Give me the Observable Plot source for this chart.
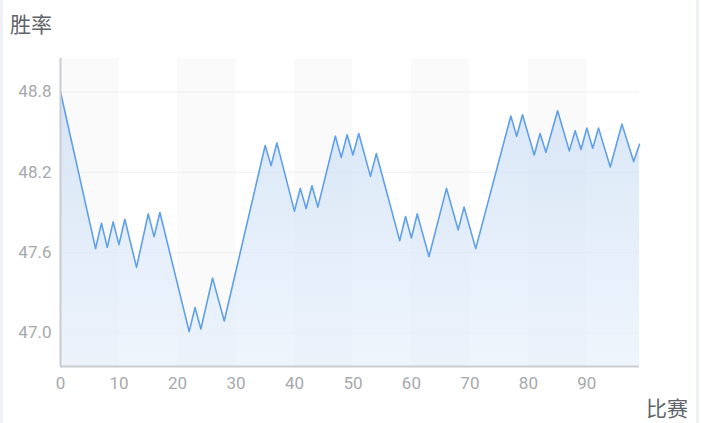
<!DOCTYPE html>
<html>
<head>
<meta charset="utf-8">
<script src="https://cdn.jsdelivr.net/npm/d3@7"></script>
<script src="https://cdn.jsdelivr.net/npm/@observablehq/plot@0.6"></script>
<style>
  html, body { margin: 0; padding: 0; background: #fff; }
  #wrap { position: relative; width: 701px; height: 423px; overflow: hidden;
          font-family: "Noto Sans CJK SC", "Noto Sans", Roboto, sans-serif; }
  #wrap:before, #wrap:after { content: ""; position: absolute; top: 0; bottom: 0; width: 3px; background: #eef1f6; }
  #wrap:before { left: 0; } #wrap:after { right: 2px; }
  .lbl { position: absolute; font-size: 21px; line-height: 1; color: #5f646b; font-family: "Noto Sans CJK SC", sans-serif; }
  #chart { position: absolute; left: 0; top: 0; }
</style>
</head>
<body>
<div id="wrap">
  <div id="chart"></div>
  <div class="lbl" style="left:10px; top:13px;">胜率</div>
  <div class="lbl" style="left:646px; top:397px;">比赛</div>
</div>
<script>
// match index of each vertex of the win-rate line
const matches = [0, 6, 7, 8, 9, 10, 11, 13, 15, 16, 17, 22, 23, 24, 26, 28, 35, 36, 37, 40, 41, 42, 43, 44, 47, 48, 49, 50, 51, 53, 54, 58, 59, 60, 61, 63, 66, 68, 69, 71, 77, 78, 79, 81, 82, 83, 85, 87, 88, 89, 90, 91, 92, 94, 96, 98, 99];
// win rate (%) at those matches
const winRate = [48.80, 47.63, 47.82, 47.64, 47.83, 47.66, 47.85, 47.49, 47.89, 47.72, 47.90, 47.01, 47.19, 47.03, 47.41, 47.09, 48.40, 48.25, 48.42, 47.91, 48.08, 47.93, 48.10, 47.94, 48.47, 48.31, 48.48, 48.33, 48.49, 48.17, 48.34, 47.69, 47.87, 47.71, 47.89, 47.57, 48.08, 47.77, 47.94, 47.63, 48.62, 48.47, 48.63, 48.33, 48.49, 48.35, 48.66, 48.36, 48.51, 48.37, 48.53, 48.38, 48.53, 48.24, 48.56, 48.28, 48.41];
const xTicks = [0, 10, 20, 30, 40, 50, 60, 70, 80, 90];
const yTicks = [47.0, 47.6, 48.2, 48.8];
const xDomain = [0, 99];
const yDomain = [46.75, 49.05];
const bandStarts = [0, 20, 40, 60, 80];
const bandWidth = 10;

const data = matches.map((m, i) => ({match: m, rate: winRate[i]}));
const bands = bandStarts.map(s => ({x1: s, x2: s + bandWidth}));

const gradient = () => {
  const defs = d3.create("svg:defs");
  const g = defs.append("linearGradient").attr("id", "areaGrad")
    .attr("x1", 0).attr("y1", 0).attr("x2", 0).attr("y2", 1);
  g.append("stop").attr("offset", "0%").attr("stop-color", "#c9dcf4").attr("stop-opacity", 0.7);
  g.append("stop").attr("offset", "100%").attr("stop-color", "#e3eefb").attr("stop-opacity", 0.6);
  return defs.node();
};

const chart = Plot.plot({
  width: 701,
  height: 423,
  marginLeft: 60,
  marginRight: 62,
  marginTop: 58,
  marginBottom: 57,
  style: {color: "#a6a9ad", fontSize: "17px", fontFamily: "Roboto, 'Noto Sans', sans-serif", background: "transparent"},
  x: {domain: xDomain},
  y: {domain: yDomain},
  marks: [
    gradient,
    Plot.rectY(bands, {x1: "x1", x2: "x2", y1: yDomain[0], y2: yDomain[1], fill: "#fafafb"}),
    Plot.gridY(yTicks, {stroke: "#eeeff1", strokeOpacity: 1}),
    Plot.areaY(data, {x: "match", y1: yDomain[0], y2: "rate", fill: "url(#areaGrad)"}),
    Plot.line(data, {x: "match", y: "rate", stroke: "#5fa0ea", strokeWidth: 1.6}),
    Plot.ruleX([xDomain[0]], {stroke: "#c9ccd1", strokeWidth: 2}),
    Plot.ruleY([yDomain[0]], {stroke: "#c9ccd1", strokeWidth: 2}),
    Plot.axisY(yTicks, {tickSize: 0, tickPadding: 9, tickFormat: d => d.toFixed(1), label: null}),
    Plot.axisX(xTicks, {tickSize: 0, tickPadding: 10, label: null})
  ]
});
document.getElementById("chart").append(chart);
</script>
</body>
</html>
